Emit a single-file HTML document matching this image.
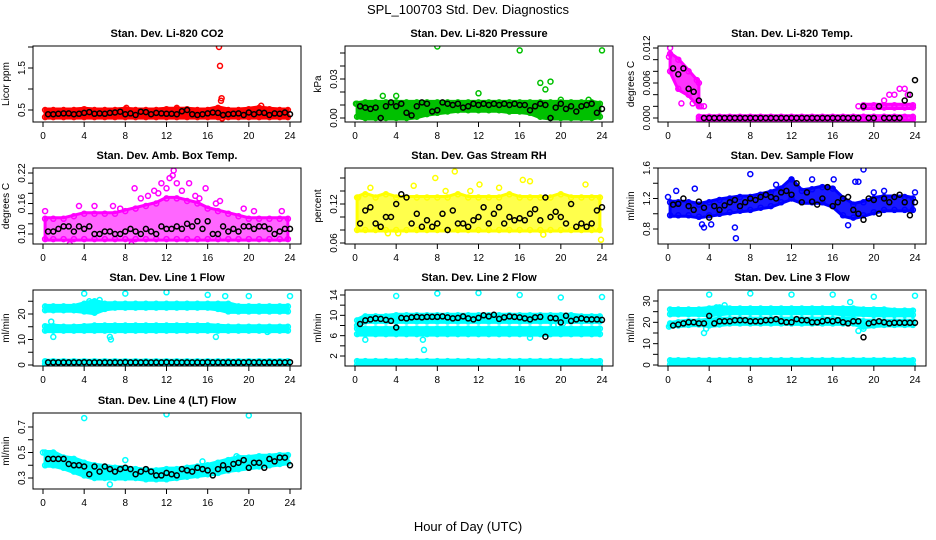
<!DOCTYPE html>
<html><head><meta charset="utf-8"><style>
html,body{margin:0;padding:0;background:#fff;}
svg{display:block;font-family:"Liberation Sans",sans-serif;}
</style></head><body>
<svg id="fig" width="936" height="540" viewBox="0 0 936 540" xmlns="http://www.w3.org/2000/svg">
<text x="468" y="14" font-size="13" text-anchor="middle">SPL_100703  Std. Dev. Diagnostics</text>
<text x="468" y="531" font-size="13" text-anchor="middle">Hour of Day (UTC)</text>
</svg>
<script>
// ---- data (hourly grid 0..24 for bands; black series at 0.5h steps 0.5..24) ----
const co2Lo=[0.33,0.33,0.33,0.33,0.33,0.33,0.33,0.33,0.33,0.33,0.33,0.33,0.33,0.33,0.33,0.33,0.33,0.33,0.33,0.33,0.33,0.33,0.33,0.33,0.33];
const co2Hi=[0.5,0.5,0.5,0.5,0.52,0.5,0.5,0.5,0.52,0.5,0.5,0.5,0.52,0.52,0.52,0.5,0.5,0.55,0.5,0.5,0.52,0.55,0.52,0.5,0.5];
const co2OutX=[17.1,17.2,17.3,17.35,21.2,8.1,13,17.4];
const co2OutY=[2.0,1.55,0.72,0.78,0.6,0.55,0.55,0.3];
const co2Blk=[0.40,0.40,0.41,0.42,0.42,0.40,0.41,0.43,0.45,0.41,0.42,0.41,0.43,0.44,0.46,0.40,0.42,0.38,0.46,0.45,0.40,0.43,0.42,0.41,0.41,0.40,0.47,0.50,0.40,0.38,0.40,0.42,0.44,0.43,0.38,0.40,0.41,0.42,0.38,0.44,0.40,0.44,0.43,0.38,0.42,0.41,0.44,0.40];

const presLo=[0.001,0,0,0,0,0,0.001,0.003,0.004,0.005,0.006,0.006,0.006,0.006,0.006,0.005,0.005,0.004,0.001,0,0,0,0,0,0.001];
const presHi=[0.011,0.012,0.012,0.012,0.012,0.012,0.012,0.012,0.012,0.012,0.012,0.012,0.012,0.012,0.012,0.012,0.012,0.012,0.012,0.012,0.012,0.012,0.012,0.012,0.011];
const presOutX=[8,16,24,18,18.5,19,12,2.7,4,0.1,20,22.7];
const presOutY=[0.055,0.052,0.052,0.027,0.022,0.028,0.019,0.017,0.017,0.011,0.014,0.014];
const presBlk=[0.009,0.008,0.007,0.008,0.0,0.009,0.012,0.009,0.011,0.004,0.002,0.009,0.012,0.011,0.005,0.006,0.012,0.011,0.010,0.011,0.008,0.009,0.011,0.010,0.011,0.010,0.011,0.010,0.011,0.010,0.011,0.010,0.010,0.006,0.009,0.011,0.010,0.0,0.008,0.011,0.007,0.009,0.005,0.009,0.010,0.011,0.004,0.007];

const tempLo=[0.008,0.005,0.004,0.002,null,null,null,null,null,null,null,null,null,null,null,null,null,null,null,null,null,null,null,null,null];
const tempHi=[0.011,0.010,0.008,0.006,null,null,null,null,null,null,null,null,null,null,null,null,null,null,null,null,null,null,null,null,null];
const tempBaseLo=[null,null,null,-0.0002,-0.0002,-0.0002,-0.0002,-0.0002,-0.0002,-0.0002,-0.0002,-0.0002,-0.0002,-0.0002,-0.0002,-0.0002,-0.0002,-0.0002,-0.0002,-0.0002,-0.0002,-0.0002,-0.0002,-0.0002,-0.0002];
const tempBaseHi=[null,null,null,0.0002,0.0002,0.0002,0.0002,0.0002,0.0002,0.0002,0.0002,0.0002,0.0002,0.0002,0.0002,0.0002,0.0002,0.0002,0.0002,0.0002,0.0002,0.0002,0.0002,0.0002,0.0002];
const tempStepLo=[null,null,null,null,null,null,null,null,null,null,null,null,null,null,null,null,null,null,null,0.0018,0.0018,0.0018,0.0018,0.0018,0.0018];
const tempStepHi=[null,null,null,null,null,null,null,null,null,null,null,null,null,null,null,null,null,null,null,0.0022,0.0022,0.0022,0.0022,0.0022,0.0022];
const tempOutX=[0.2,0.1,1.3,2.4,3.5,3.2,21,21.5,22,22.5,23,23.3,18.5,2.8];
const tempOutY=[0.012,0.0105,0.0025,0.0025,0.002,0.002,0.003,0.004,0.004,0.005,0.005,0.004,0.002,0.0065];
const tempBlk=[0.0085,0.0075,0.0085,0.005,0.0045,0.003,0.0,0,0,0,0,0,0,0,0,0,0,0,0,0,0,0,0,0,0,0,0,0,0,0,0,0,0,0,0,0,0,0.002,0,0,0.002,0,0,0,0,0.003,0.004,0.0065];

const ambLo=[0.09,0.09,0.09,0.09,0.09,0.09,0.09,0.09,0.09,0.09,0.09,0.09,0.09,0.09,0.09,0.09,0.09,0.09,0.09,0.09,0.09,0.09,0.09,0.09,0.09];
const ambHi=[0.13,0.13,0.13,0.135,0.14,0.14,0.14,0.14,0.145,0.15,0.155,0.16,0.17,0.17,0.165,0.16,0.15,0.145,0.14,0.135,0.13,0.13,0.13,0.13,0.13];
const ambOutX=[12.7,12.3,12.6,8.9,11.5,14.2,13,2.6,8.6,0.2,7.5,15.8,10.8,10.2,11.2,12.0,13.5,14.8,15.2,9.5,16.8,17.2,3.5,5.0,6.8,19.5,20.5,23.2];
const ambOutY=[0.225,0.21,0.215,0.19,0.2,0.2,0.2,0.08,0.08,0.145,0.15,0.19,0.185,0.175,0.18,0.19,0.185,0.175,0.17,0.17,0.16,0.165,0.155,0.155,0.155,0.15,0.145,0.145];
const ambBlk=[0.105,0.105,0.11,0.115,0.115,0.105,0.115,0.11,0.115,0.10,0.10,0.105,0.105,0.10,0.10,0.105,0.11,0.105,0.10,0.11,0.105,0.10,0.115,0.11,0.11,0.115,0.11,0.12,0.115,0.125,0.11,0.125,0.10,0.10,0.115,0.105,0.11,0.105,0.115,0.115,0.11,0.115,0.115,0.11,0.10,0.105,0.11,0.11];

const rhLo=[0.08,0.08,0.08,0.08,0.08,0.08,0.08,0.08,0.08,0.08,0.08,0.08,0.08,0.08,0.08,0.08,0.08,0.08,0.08,0.08,0.08,0.08,0.08,0.08,0.08];
const rhHi=[0.13,0.135,0.13,0.135,0.13,0.13,0.13,0.13,0.13,0.13,0.135,0.13,0.13,0.13,0.13,0.135,0.13,0.13,0.13,0.13,0.135,0.13,0.13,0.13,0.13];
const rhOutX=[9.7,7.8,16.3,17,22.4,1.5,5.7,0.3,23.9,12.1,14,18.3,3.2,4.2,8.8,11.2];
const rhOutY=[0.17,0.16,0.157,0.155,0.15,0.145,0.148,0.13,0.065,0.15,0.145,0.073,0.075,0.075,0.14,0.14];
const rhBlk=[0.09,0.11,0.115,0.09,0.085,0.10,0.10,0.12,0.135,0.13,0.09,0.105,0.085,0.095,0.085,0.09,0.105,0.08,0.11,0.09,0.09,0.085,0.095,0.10,0.115,0.09,0.105,0.115,0.09,0.10,0.095,0.098,0.095,0.105,0.112,0.095,0.13,0.10,0.108,0.10,0.09,0.12,0.085,0.09,0.085,0.09,0.11,0.115];

const flowLo=[0.98,0.98,0.98,0.96,0.98,1.0,1.02,1.04,1.05,1.08,1.1,1.15,1.2,1.15,1.15,1.15,1.1,0.98,0.95,0.98,1.02,1.05,1.05,1.05,1.05];
const flowHi=[1.15,1.15,1.15,1.12,1.15,1.18,1.2,1.22,1.22,1.25,1.28,1.33,1.45,1.3,1.32,1.35,1.33,1.2,1.12,1.15,1.2,1.22,1.22,1.22,1.2];
const flowOutX=[19,8,18.2,18.5,14,10.5,6.5,6.6,3.5,3.3,4.2,2.6,0.8,16.1,21,20,0.0,24,17.5];
const flowOutY=[1.58,1.52,1.42,1.42,1.45,1.38,0.82,0.68,0.82,0.86,0.86,1.33,1.3,1.45,1.3,1.28,1.22,1.28,0.85];
const flowBlk=[1.12,1.13,1.20,1.10,1.05,1.16,1.08,0.95,1.10,1.05,1.11,1.15,1.18,1.10,1.15,1.20,1.18,1.22,1.25,1.22,1.20,1.28,1.30,1.25,1.40,1.15,1.28,1.16,1.12,1.20,1.35,1.10,1.15,1.20,1.22,1.05,1.00,0.92,1.20,1.18,1.00,1.20,1.15,1.22,1.25,1.15,0.98,1.15];

const l1aLo=[21.5,21.5,21.5,21.5,21,20.5,22,22.5,22.5,22.5,22.5,22.5,22.5,22.5,22.5,22.5,22.5,22,21,21,21,21,21,21,21];
const l1aHi=[23,23,23,23,24,25,24,24,24,24,24,24,24,24,24,24,24,24,24,23,23,23,23,23,23];
const l1bLo=[13.5,13.5,13.5,13.5,13.5,13.5,13.5,13.5,13.5,13.5,13.5,13.5,13.5,13.5,13.5,13.5,13.5,13.5,13.5,13.5,13.5,13.5,13.5,13.5,13.5];
const l1bHi=[15.2,15.2,15,15,15.2,15.5,15.5,15.5,15.5,15.5,15.5,15.5,15.5,15.5,15.5,15.5,15.5,15.2,15,15,15,15,15,15,15];
const l1cLo=[0.4,0.4,0.4,0.4,0.4,0.4,0.4,0.4,0.4,0.4,0.4,0.4,0.4,0.4,0.4,0.4,0.4,0.4,0.4,0.4,0.4,0.4,0.4,0.4,0.4];
const l1cHi=[1.5,1.5,1.5,1.5,1.5,1.5,1.5,1.5,1.5,1.5,1.5,1.5,1.5,1.5,1.5,1.5,1.5,1.5,1.5,1.5,1.5,1.5,1.5,1.5,1.5];
const l1OutX=[4,8,12,16,20,24,17.7,0.8,1,6.5,6.6,16.8,21.8,4.5,5.5];
const l1OutY=[28,28,28.5,27.5,27,27,27,17,11,11,10,11,13,25,25.5];
const l1Blk=[1,1,1,1,1,1,1,1.1,1,1,1,1,1,1,1,1.1,1,1,1,1,1,1,1,1.1,1,1,1,1,1,1,1,1.1,1,1,1,1,1,1,1,1.1,1,1,1,1,1,1,1,1.1];

const l2aLo=[8.0,8.8,8.8,8.8,8.8,8.8,8.8,8.8,8.8,8.8,8.8,8.8,8.8,8.8,8.8,8.8,8.8,8.8,8.8,8.8,8.8,8.8,8.8,8.8,8.8];
const l2aHi=[9.0,9.8,9.8,9.8,10,10,10,10,10,10,10,10,10,10,10,10,10,10,10,10,10,10,9.8,9.8,9.8];
const l2bLo=[6.3,6.3,6.3,6.3,6.3,6.3,6.3,6.3,6.3,6.3,6.3,6.3,6.3,6.3,6.3,6.3,6.3,6.3,6.3,6.3,6.3,6.3,6.3,6.3,6.3];
const l2bHi=[7.4,7.4,7.4,7.4,7.4,7.4,7.4,7.4,7.4,7.4,7.4,7.4,7.4,7.4,7.4,7.4,7.4,7.4,7.4,7.4,7.4,7.4,7.4,7.4,7.4];
const l2cLo=[0.2,0.2,0.2,0.2,0.2,0.2,0.2,0.2,0.2,0.2,0.2,0.2,0.2,0.2,0.2,0.2,0.2,0.2,0.2,0.2,0.2,0.2,0.2,0.2,0.2];
const l2cHi=[1.0,1.0,1.0,1.0,1.0,1.0,1.0,1.0,1.0,1.0,1.0,1.0,1.0,1.0,1.0,1.0,1.0,1.0,1.0,1.0,1.0,1.0,1.0,1.0,1.0];
const l2OutX=[4,8,12,16,20,24,1,6.6,6.7,17,19.3,20.2];
const l2OutY=[13.8,14.3,14.4,14,13.5,13.6,5.2,5.2,3.2,5.6,8,8.4];
const l2Blk=[8.3,9.0,9.2,9.4,9.3,9.1,8.9,7.6,9.5,9.4,9.6,9.7,9.6,9.7,9.7,9.7,9.8,9.6,9.4,9.5,9.8,9.4,9.2,9.5,10.0,9.8,10.1,9.3,9.6,9.8,9.7,9.6,9.4,9.2,9.6,9.7,5.8,9.5,9.4,8.6,9.9,8.9,9.2,9.4,9.2,9.2,9.2,9.1];

const l3aLo=[23.8,23.8,23.8,23.8,23.5,24,24.5,24.5,24.5,24.5,24.5,24.5,24.5,24.5,24.5,24.5,24.5,24,23.8,23.8,23.5,23.5,23.5,23.5,23.5];
const l3aHi=[26,26,26,26,26.5,27,26.5,26.5,26.5,26.5,26.5,26.5,26.5,26.5,26.5,26.5,26.5,26.5,26.5,26,26,26,25.5,25.5,25.5];
const l3bLo=[18.5,18.5,18.8,19,18.5,19,19.5,19.5,19.5,19.5,19.5,19.5,19.5,19.5,19.5,19.5,19.5,19.5,19.5,18,18.5,18.8,18.8,18.8,18.8];
const l3bHi=[19.5,20,20.5,20.5,21,21.5,21.5,21.5,21.5,21.5,21.5,21.5,21.5,21.5,21.5,21.5,21.5,21.5,21.5,20.5,20.5,20.5,20.5,20.5,20.5];
const l3cLo=[0.3,0.3,0.3,0.3,0.3,0.3,0.3,0.3,0.3,0.3,0.3,0.3,0.3,0.3,0.3,0.3,0.3,0.3,0.3,0.3,0.3,0.3,0.3,0.3,0.3];
const l3cHi=[2.2,2.2,2.2,2.2,2.2,2.2,2.2,2.2,2.2,2.2,2.2,2.2,2.2,2.2,2.2,2.2,2.2,2.2,2.2,2.2,2.2,2.2,2.2,2.2,2.2];
const l3OutX=[4,8,12,16,20,24,3.5,3.7,17.7,5.5,4.7,0.1,19,18.5];
const l3OutY=[33,33.5,33,33,32,32.5,15,17,29.5,28,27,18,17,16];
const l3Blk=[18.5,19,19.5,20,20,19.5,19.5,23,19.5,20.5,20.5,20.5,21,21,21,20.5,20.5,20.5,21,21,21.5,20.5,20,20,21.5,21,21,20,20,20.5,21,20.5,21,20,19.5,20.5,20.5,13,19.5,20,20.5,20,19.5,19.8,19.8,19.8,19.8,19.8];

const l4Lo=[0.4,0.4,0.38,0.35,0.32,0.3,0.3,0.3,0.3,0.3,0.29,0.29,0.29,0.3,0.31,0.32,0.33,0.34,0.36,0.37,0.38,0.39,0.4,0.41,0.42];
const l4Hi=[0.5,0.5,0.46,0.45,0.42,0.4,0.39,0.38,0.38,0.37,0.36,0.36,0.37,0.37,0.38,0.39,0.4,0.42,0.44,0.46,0.46,0.47,0.47,0.48,0.48];
const l4OutX=[4,12,20,0,6.5,8,15.5,1,18.8];
const l4OutY=[0.77,0.8,0.79,0.5,0.25,0.44,0.43,0.42,0.47];
const l4Blk=[0.45,0.45,0.45,0.45,0.41,0.40,0.40,0.39,0.33,0.39,0.35,0.39,0.37,0.35,0.37,0.38,0.37,0.33,0.35,0.37,0.35,0.32,0.32,0.34,0.33,0.32,0.37,0.36,0.35,0.38,0.37,0.36,0.32,0.37,0.40,0.37,0.41,0.42,0.44,0.38,0.42,0.42,0.38,0.45,0.43,0.46,0.46,0.40];

const xTicks=[0,4,8,12,16,20,24];

// ---- layout ----
const colLeft=[33,345,658], rowTop=[46,168,290,413], boxW=268, boxH=76;
const NS="http://www.w3.org/2000/svg";
const svg=document.getElementById('fig');
function mk(tag,attrs,parent){const e=document.createElementNS(NS,tag);for(const k in attrs)e.setAttribute(k,attrs[k]);(parent||svg).appendChild(e);return e;}

const panels=[
 {name:'co2',title:'Stan. Dev. Li-820 CO2',ylab:'Licor ppm',c:0,r:0,col:'#ff0000',op:1,ref:[0.5,110,1.5,68],ticks:[0.5,1,1.5,2],labels:[[0.5,'0.5'],[1.5,'1.5']],bands:[[co2Lo,co2Hi]],ox:co2OutX,oy:co2OutY,blk:co2Blk},
 {name:'pressure',title:'Stan. Dev. Li-820 Pressure',ylab:'kPa',c:1,r:0,col:'#00c000',op:1,ref:[0,118,0.03,79],ticks:[0,0.01,0.02,0.03,0.04,0.05],labels:[[0,'0.00'],[0.03,'0.03']],bands:[[presLo,presHi]],ox:presOutX,oy:presOutY,blk:presBlk},
 {name:'temp',title:'Stan. Dev. Li-820 Temp.',ylab:'degrees C',c:2,r:0,col:'#ff00ff',op:0.8,ref:[0,118,0.012,48],ticks:[0,0.002,0.004,0.006,0.008,0.01,0.012],labels:[[0,'0.000'],[0.006,'0.006'],[0.012,'0.012']],bands:[[tempLo,tempHi],[tempBaseLo,tempBaseHi],[tempStepLo,tempStepHi]],ox:tempOutX,oy:tempOutY,blk:tempBlk},
 {name:'amb-box-temp',title:'Stan. Dev. Amb. Box Temp.',ylab:'degrees C',c:0,r:1,col:'#ff00ff',op:0.6,ref:[0.10,234,0.22,173],ticks:[0.1,0.12,0.14,0.16,0.18,0.2,0.22],labels:[[0.1,'0.10'],[0.16,'0.16'],[0.22,'0.22']],bands:[[ambLo,ambHi]],ox:ambOutX,oy:ambOutY,blk:ambBlk},
 {name:'gas-stream-rh',title:'Stan. Dev. Gas Stream RH',ylab:'percent',c:1,r:1,col:'#ffff00',op:0.7,ref:[0.06,243,0.12,204],ticks:[0.06,0.08,0.1,0.12,0.14,0.16],labels:[[0.06,'0.06'],[0.12,'0.12']],bands:[[rhLo,rhHi]],ox:rhOutX,oy:rhOutY,blk:rhBlk},
 {name:'sample-flow',title:'Stan. Dev. Sample Flow',ylab:'ml/min',c:2,r:1,col:'#0000ff',op:0.9,ref:[0.8,229,1.6,168],ticks:[0.8,1.0,1.2,1.4,1.6],labels:[[0.8,'0.8'],[1.2,'1.2'],[1.6,'1.6']],bands:[[flowLo,flowHi]],ox:flowOutX,oy:flowOutY,blk:flowBlk},
 {name:'line1-flow',title:'Stan. Dev. Line 1 Flow',ylab:'ml/min',c:0,r:2,col:'#00ffff',op:1,ref:[0,365,20,314],ticks:[0,5,10,15,20,25],labels:[[0,'0'],[10,'10'],[20,'20']],bands:[[l1aLo,l1aHi],[l1bLo,l1bHi],[l1cLo,l1cHi]],ox:l1OutX,oy:l1OutY,blk:l1Blk},
 {name:'line2-flow',title:'Stan. Dev. Line 2 Flow',ylab:'ml/min',c:1,r:2,col:'#00ffff',op:1,ref:[2,356,14,295],ticks:[2,4,6,8,10,12,14],labels:[[2,'2'],[6,'6'],[10,'10'],[14,'14']],bands:[[l2aLo,l2aHi],[l2bLo,l2bHi],[l2cLo,l2cHi]],ox:l2OutX,oy:l2OutY,blk:l2Blk},
 {name:'line3-flow',title:'Stan. Dev. Line 3 Flow',ylab:'ml/min',c:2,r:2,col:'#00ffff',op:1,ref:[0,365,30,301],ticks:[0,5,10,15,20,25,30],labels:[[0,'0'],[10,'10'],[20,'20'],[30,'30']],bands:[[l3aLo,l3aHi],[l3bLo,l3bHi],[l3cLo,l3cHi]],ox:l3OutX,oy:l3OutY,blk:l3Blk},
 {name:'line4-lt-flow',title:'Stan. Dev. Line 4 (LT) Flow',ylab:'ml/min',c:0,r:3,col:'#00ffff',op:1,ref:[0.3,478,0.7,427],ticks:[0.3,0.4,0.5,0.6,0.7],labels:[[0.3,'0.3'],[0.5,'0.5'],[0.7,'0.7']],bands:[[l4Lo,l4Hi]],ox:l4OutX,oy:l4OutY,blk:l4Blk}
];

function circ(g,x,y,col,name){
  const e=mk('circle',{cx:x.toFixed(1),cy:y.toFixed(1),r:2.5,fill:'none',stroke:col,'stroke-width':1.5},g);
  
  
}

panels.forEach(p=>{
  const L=colLeft[p.c], T=rowTop[p.r], B=T+boxH;
  const sx=v=>L+10+v*(247/24);
  const k=(p.ref[3]-p.ref[1])/(p.ref[2]-p.ref[0]);
  const sy=v=>p.ref[1]+(v-p.ref[0])*k;
  const g=mk('g',{});
  
  
  const cp=mk('clipPath',{id:'cp-'+p.name},g);
  mk('rect',{x:L,y:T,width:boxW,height:boxH},cp);
  const dg=mk('g',{'clip-path':'url(#cp-'+p.name+')'},g);
  
  
  p.bands.forEach((bd,bi)=>{
    const lo=bd[0],hi=bd[1];
    let segs=[],cur=[];
    lo.forEach((v,i)=>{if(v===null||hi[i]===null){if(cur.length)segs.push(cur);cur=[];}else cur.push(i);});
    if(cur.length)segs.push(cur);
    segs.forEach(s=>{
      let d='';
      s.forEach((i,j)=>{const xx=sx(Math.max(0.2,Math.min(23.8,i)));d+=(j?'L':'M')+xx.toFixed(1)+' '+(sy(hi[i])-1).toFixed(1);});
      for(let j=s.length-1;j>=0;j--){const i=s[j];const xx=sx(Math.max(0.2,Math.min(23.8,i)));d+='L'+xx.toFixed(1)+' '+(sy(lo[i])+1).toFixed(1);}
      const pa=mk('path',{d:d+'Z',fill:p.col,'fill-opacity':p.op,stroke:p.col,'stroke-width':3,'stroke-linejoin':'round'},dg);
      
      
      s.forEach(i=>{
        const xx=sx(Math.max(0.2,Math.min(23.8,i)));
        circ(dg,xx,sy(hi[i]),p.col,p.name+'-point');
        circ(dg,xx,sy(lo[i]),p.col,p.name+'-point');
      });
    });
  });
  p.ox.forEach((x,i)=>circ(dg,sx(x),sy(p.oy[i]),p.col,p.name+'-outlier'));
  p.blk.forEach((v,i)=>circ(dg,sx(0.5+i*0.5),sy(v),'#000',p.name+'-mean-point'));
  const bx=mk('rect',{x:L,y:T,width:boxW,height:boxH,fill:'none',stroke:'#000','stroke-width':1},g);
  
  
  const tt=mk('text',{x:L+boxW/2,y:T-9,'font-size':11,'font-weight':'bold','text-anchor':'middle'},g);
  tt.textContent=p.title;
  
  
  const yl=mk('text',{transform:'translate('+(L-24)+','+(T+boxH/2)+') rotate(-90)','font-size':10,'text-anchor':'middle'},g);
  yl.textContent=p.ylab;
  
  
  p.ticks.forEach(v=>{const y=sy(v);const t=mk('line',{x1:L-5,x2:L,y1:y,y2:y,stroke:'#000'},g);
    });
  p.labels.forEach(lb=>{const y=sy(lb[0]);const t=mk('text',{transform:'translate('+(L-8)+','+y.toFixed(1)+') rotate(-90)','font-size':10,'text-anchor':'middle'},g);
    t.textContent=lb[1];});
  xTicks.forEach(v=>{const x=sx(v);const t=mk('line',{x1:x,x2:x,y1:B,y2:B+5,stroke:'#000'},g);
    
    const lt=mk('text',{x:x,y:B+17,'font-size':10,'text-anchor':'middle'},g);lt.textContent=String(v);
    });
});
</script>
</body></html>
